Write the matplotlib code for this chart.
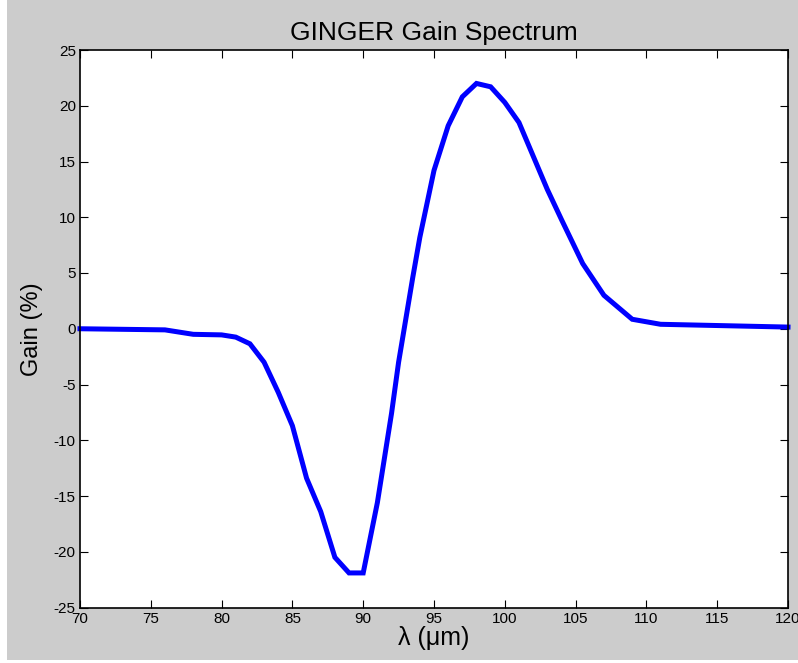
import matplotlib
matplotlib.use("Agg")
import matplotlib.pyplot as plt
from matplotlib.patches import Rectangle

# wavelength (um) and gain (%)
wavelength = [70, 76, 78, 80, 81, 82, 83, 84, 85, 86, 87, 88, 89, 90,
              91, 91.5, 92, 92.5, 93, 93.5, 94, 94.5, 95, 96, 97, 98, 99,
              100, 101, 102, 103, 104, 105.5, 107, 109, 111, 120]
gain = [0.0, -0.1, -0.5, -0.55, -0.75, -1.35, -3.0, -5.7, -8.7, -13.4,
        -16.4, -20.5, -21.9, -21.9, -15.6, -11.6, -7.6, -3.0, 0.8, 4.6,
        8.2, 11.2, 14.2, 18.2, 20.8, 22.0, 21.7, 20.3, 18.5, 15.5, 12.5,
        9.8, 5.85, 3.0, 0.85, 0.4, 0.15]

xticks = list(range(70, 121, 5))
yticks = list(range(-25, 26, 5))

plt.rcParams['font.family'] = ['Liberation Sans', 'DejaVu Sans']
plt.rcParams['axes.unicode_minus'] = False

fig = plt.figure(figsize=(7.98, 6.63), dpi=100, facecolor='white')
# grey panel (leaves a thin white strip on the left and bottom)
fig.patches.append(Rectangle((7 / 798, 3 / 663), 1, 1, transform=fig.transFigure,
                             facecolor='#cccccc', edgecolor='none', zorder=-10))

ax = fig.add_axes([80 / 798, 1 - 607.5 / 663, 708 / 798, 557.5 / 663])
ax.plot(wavelength, gain, color='#0000ff', linewidth=3.6, solid_joinstyle='miter',
        clip_on=False)

ax.set_xlim(70, 120)
ax.set_ylim(-25, 25)
ax.set_xticks(xticks)
ax.set_yticks(yticks)
ax.tick_params(direction='in', length=6, width=0.8, top=True, right=True,
               labelsize=11, pad=3, colors='black')
for s in ax.spines.values():
    s.set_linewidth(1.2)

ax.set_title('GINGER Gain Spectrum', fontsize=19, pad=7)
ax.set_xlabel('λ (μm)', fontsize=18, labelpad=0)
ax.set_ylabel('Gain (%)', fontsize=17, labelpad=8)

fig.savefig('out.png', dpi=100, facecolor=fig.get_facecolor())
